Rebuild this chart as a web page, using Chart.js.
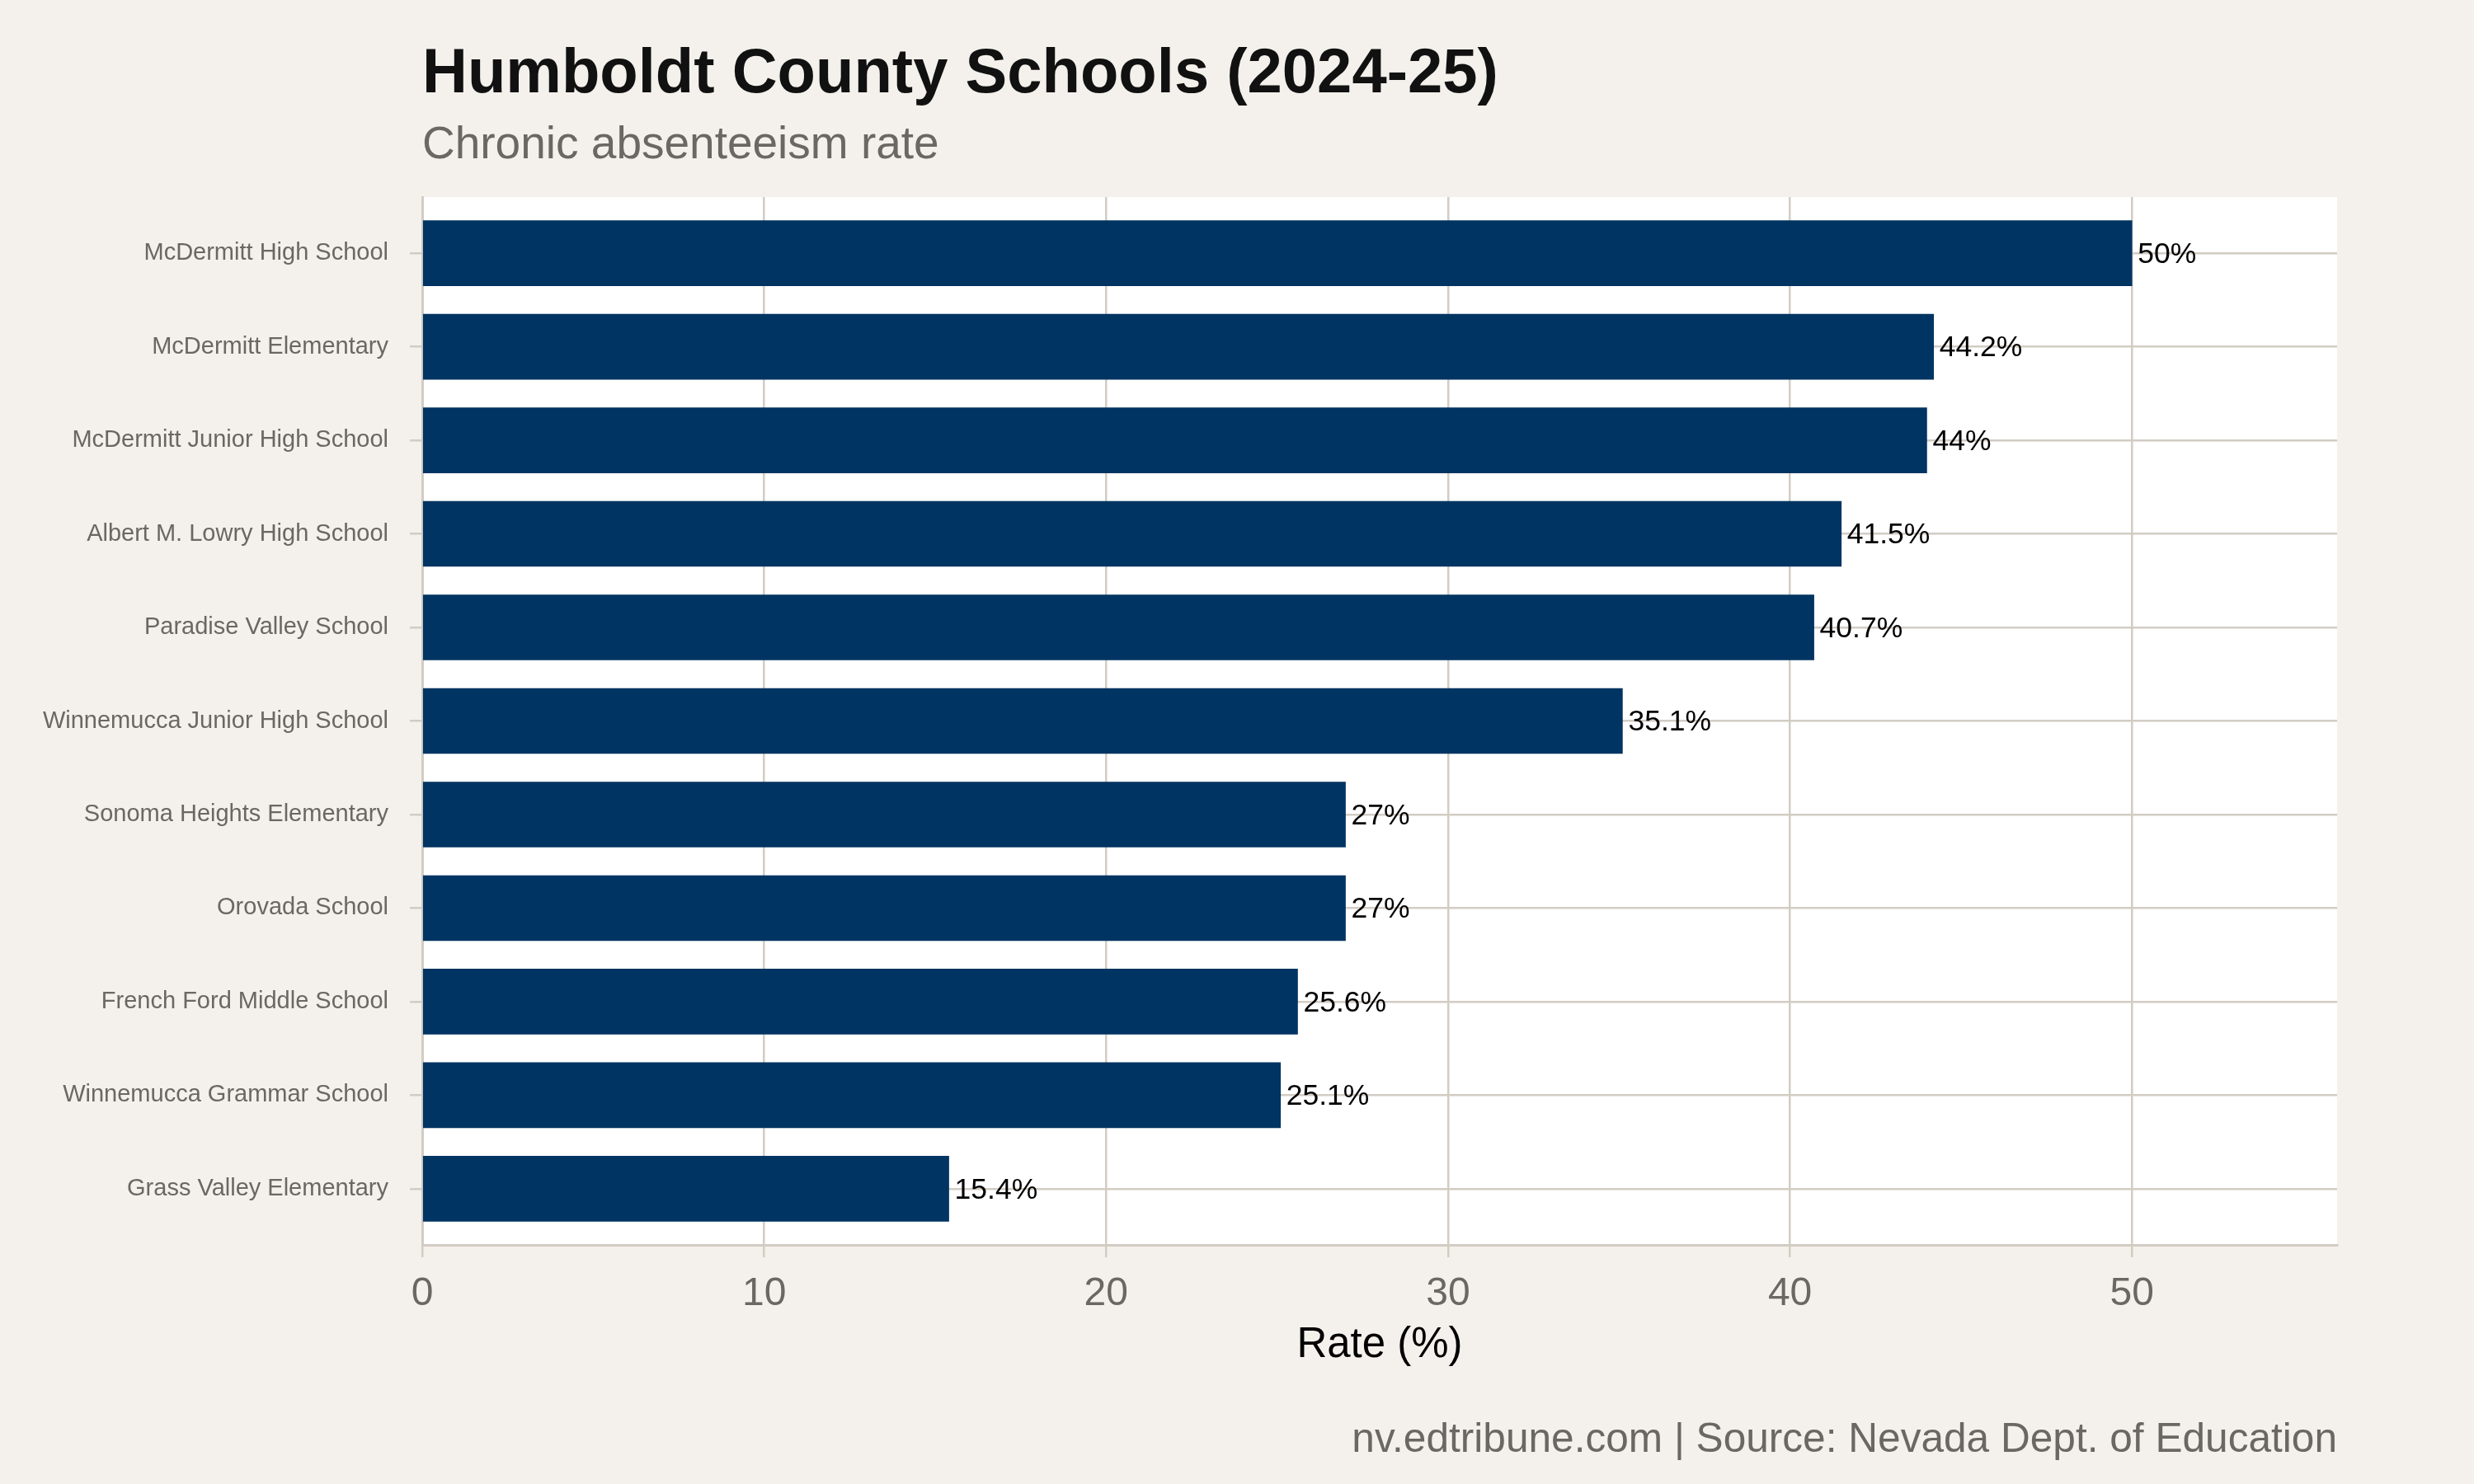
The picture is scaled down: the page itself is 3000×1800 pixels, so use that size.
<!DOCTYPE html>
<html>
<head>
<meta charset="utf-8">
<script src="https://cdn.jsdelivr.net/npm/chart.js@4.4.1/dist/chart.umd.min.js"></script>
<style>
  html, body { margin: 0; padding: 0; background: #f4f1ec; }
  #wrap { width: 3000px; height: 1800px; }
</style>
</head>
<body>
<div id="wrap"><canvas id="c" width="3000" height="1800"></canvas></div>
<script>
// ── datos ─────────────────────────────────────────
const schools = [
  'McDermitt High School',
  'McDermitt Elementary',
  'McDermitt Junior High School',
  'Albert M. Lowry High School',
  'Paradise Valley School',
  'Winnemucca Junior High School',
  'Sonoma Heights Elementary',
  'Orovada School',
  'French Ford Middle School',
  'Winnemucca Grammar School',
  'Grass Valley Elementary',
];
const rates  = [50, 44.2, 44, 41.5, 40.7, 35.1, 27, 27, 25.6, 25.1, 15.4];
const xTicks = [0, 10, 20, 30, 40, 50];

const TITLE    = 'Humboldt County Schools (2024-25)';
const SUBTITLE = 'Chronic absenteeism rate';
const CAPTION  = 'nv.edtribune.com | Source: Nevada Dept. of Education';

// ── estilos ───────────────────────────────────────
const BG    = '#f4f1ec';
const BAR   = '#003462';
const GRID  = '#d2ccc3';
const GREY  = '#6b6762';
const FONT  = "'Liberation Sans', Arial, Helvetica, sans-serif";

Chart.defaults.font.family = FONT;
Chart.defaults.color = GREY;

// fondo + panel blanco
const panelBg = {
  id: 'panelBg',
  beforeDraw(chart) {
    const {ctx, chartArea: a} = chart;
    ctx.save();
    ctx.fillStyle = BG;
    ctx.fillRect(0, 0, chart.width, chart.height);
    ctx.fillStyle = '#ffffff';
    ctx.fillRect(a.left, a.top, a.right - a.left, a.bottom - a.top);
    ctx.restore();
  },
};

// título, subtítulo y fuente
const texts = {
  id: 'texts',
  afterDraw(chart) {
    const {ctx, chartArea: a} = chart;
    ctx.save();
    ctx.textBaseline = 'alphabetic';
    ctx.textAlign = 'left';
    ctx.fillStyle = '#111111';
    ctx.font = 'bold 76px ' + FONT;
    ctx.fillText(TITLE, a.left, 112);
    ctx.fillStyle = GREY;
    ctx.font = '55px ' + FONT;
    ctx.fillText(SUBTITLE, a.left, 192);
    ctx.textAlign = 'right';
    ctx.font = '49.6px ' + FONT;
    ctx.fillText(CAPTION, a.right, 1761);
    ctx.restore();
  },
};

// etiquetas de valor al final de cada barra
const barLabels = {
  id: 'barLabels',
  afterDatasetsDraw(chart) {
    const {ctx} = chart;
    const meta = chart.getDatasetMeta(0);
    ctx.save();
    ctx.fillStyle = '#000000';
    ctx.font = '35.5px ' + FONT;
    ctx.textAlign = 'left';
    ctx.textBaseline = 'middle';
    meta.data.forEach((bar, i) => {
      ctx.fillText(rates[i] + '%', bar.x + 7, bar.y + 2);
    });
    ctx.restore();
  },
};

new Chart(document.getElementById('c'), {
  type: 'bar',
  data: {
    datasets: [{
      data: rates.map((v, i) => ({x: v, y: i})),
      backgroundColor: BAR,
      borderWidth: 0,
      barThickness: 79,
    }],
  },
  options: {
    indexAxis: 'y',
    responsive: false,
    animation: false,
    layout: {padding: {left: 0, top: 239, right: 166, bottom: 130}},
    plugins: {
      legend: {display: false},
      tooltip: {enabled: false},
    },
    scales: {
      x: {
        type: 'linear',
        position: 'bottom',
        min: 0,
        max: 56,
        afterBuildTicks: axis => { axis.ticks = xTicks.map(v => ({value: v})); },
        afterFit: axis => { axis.height = 160; },
        grid: {color: GRID, lineWidth: 2.5, drawTicks: true, tickLength: 15, tickColor: GRID, tickWidth: 2.5},
        border: {display: true, color: GRID, width: 3},
        ticks: {color: GREY, font: {size: 48}, padding: 16, maxRotation: 0},
        title: {display: true, text: 'Rate (%)', color: '#000000', font: {size: 51}, padding: {top: 0, bottom: 7}},
      },
      y: {
        type: 'linear',
        position: 'left',
        reverse: true,
        offset: false,
        min: -0.6,
        max: 10.6,
        afterBuildTicks: axis => { axis.ticks = schools.map((_, i) => ({value: i})); },
        afterFit: axis => { axis.width = 512; },
        grid: {offset: false, color: GRID, lineWidth: 2.5, drawTicks: true, tickLength: 15, tickColor: GRID, tickWidth: 2.5},
        border: {display: true, color: GRID, width: 3},
        ticks: {
          color: GREY,
          font: {size: 29},
          padding: 26,
          autoSkip: false,
          callback: v => schools[v],
        },
      },
    },
  },
  plugins: [panelBg, barLabels, texts],
});
</script>
</body>
</html>
